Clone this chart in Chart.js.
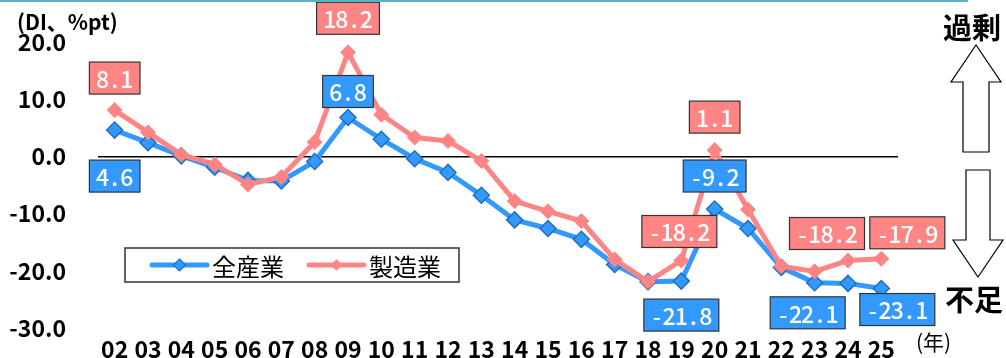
<!DOCTYPE html>
<html>
<head>
<meta charset="utf-8">
<script src="https://cdn.jsdelivr.net/npm/chart.js@4"></script>
<style>
body{margin:0;background:#fff;}
#wrap{width:1006px;height:358px;position:relative;}
</style>
</head>
<body>
<div id="wrap"><canvas id="myChart" width="1006" height="358"></canvas></div>
<script>
// 雇用人員判断DI（全産業・製造業）
var years = ['02','03','04','05','06','07','08','09','10','11','12','13','14','15','16','17','18','19','20','21','22','23','24','25'];
var allInd = [4.6, 2.4, 0.1, -1.9, -4.2, -4.3, -0.9, 6.8, 3.0, -0.4, -2.8, -6.8, -11.1, -12.6, -14.5, -18.9, -21.9, -21.8, -9.2, -12.6, -19.4, -22.1, -22.2, -23.1];
var mfg = [8.1, 4.2, 0.3, -1.4, -4.9, -3.6, 2.5, 18.2, 7.3, 3.3, 2.7, -0.8, -7.8, -9.6, -11.3, -18.0, -21.9, -18.2, 1.1, -9.3, -19.2, -20.1, -18.2, -17.9];
var seriesNames = ['全産業', '製造業'];
var allIndLabeled = [0, 7, 17, 18, 21, 23];
var mfgLabeled = [0, 7, 17, 18, 22, 23];

var BLUE = '#3399ff';
var PINK = '#ff8585';
var JP = '"Noto Sans CJK JP", "Noto Sans", sans-serif';

// box offsets from the point (px), keyed by index
var boxPos = {
  0: {0: [0, 46], 7: [0, -26], 17: [0, 34], 18: [0, -33], 21: [-7, 30], 23: [16, 21]},
  1: {0: [0, -32], 7: [0, -34], 17: [-2, -29], 18: [0, -33], 22: [-21, -27], 23: [26, -26]}
};

function monoText(ctx, str, cx, cy, cell) {
  var x0 = cx - str.length * cell / 2;
  for (var i = 0; i < str.length; i++) {
    ctx.fillText(str[i], x0 + cell * (i + 0.5), cy);
  }
}

var valueBoxes = {
  id: 'valueBoxes',
  afterDatasetsDraw: function(chart) {
    var ctx = chart.ctx;
    var sets = [[0, allIndLabeled, BLUE], [1, mfgLabeled, PINK]];
    ctx.save();
    sets.forEach(function(s) {
      var meta = chart.getDatasetMeta(s[0]);
      var data = chart.data.datasets[s[0]].data;
      s[1].forEach(function(i) {
        var pt = meta.data[i];
        var off = boxPos[s[0]][i];
        var txt = data[i].toFixed(1);
        var cx = pt.x + off[0], cy = pt.y + off[1];
        var w = txt.length * 12.2 + 14, h = 32;
        ctx.fillStyle = s[2];
        ctx.fillRect(cx - w / 2, cy - h / 2, w, h);
        ctx.strokeStyle = '#333';
        ctx.lineWidth = 1.2;
        ctx.strokeRect(cx - w / 2, cy - h / 2, w, h);
        ctx.fillStyle = '#fff';
        ctx.font = '500 23px ' + JP;
        ctx.textAlign = 'center';
        ctx.textBaseline = 'middle';
        monoText(ctx, txt, cx, cy + 1, 12.2);
      });
    });
    ctx.restore();
  }
};

function arrow(ctx, pts) {
  ctx.beginPath();
  ctx.moveTo(pts[0][0], pts[0][1]);
  for (var i = 1; i < pts.length; i++) ctx.lineTo(pts[i][0], pts[i][1]);
  ctx.closePath();
  ctx.fillStyle = '#fff';
  ctx.fill();
  ctx.strokeStyle = '#000';
  ctx.lineWidth = 1.2;
  ctx.stroke();
}

var extras = {
  id: 'extras',
  afterDraw: function(chart) {
    var ctx = chart.ctx;
    ctx.save();
    // thin rule along the top edge
    ctx.fillStyle = '#5ab4c8';
    ctx.fillRect(0, 0, 968, 2);

    ctx.fillStyle = '#000';
    ctx.textBaseline = 'middle';
    ctx.textAlign = 'left';
    ctx.font = 'bold 21px ' + JP;
    ctx.fillText('(DI、%pt)', 17, 22);

    ctx.font = 'bold 29px ' + JP;
    ctx.fillText('過剰', 943, 28);
    ctx.fillText('不足', 945, 300);

    ctx.font = '21px ' + JP;
    ctx.fillText('(年)', 916, 342);

    arrow(ctx, [[976, 45], [1001, 82], [989, 82], [989, 152], [963, 152], [963, 82], [951, 82]]);
    arrow(ctx, [[978, 277], [1003, 240], [990, 240], [990, 170], [966, 170], [966, 240], [953, 240]]);

    // legend
    ctx.fillStyle = '#fff';
    ctx.fillRect(125, 248, 334, 34);
    ctx.strokeStyle = '#333';
    ctx.lineWidth = 1.5;
    ctx.strokeRect(125, 248, 334, 34);
    var items = [[152, BLUE, '#1f6fc0', 6], [309, PINK, PINK, 5]];
    items.forEach(function(it, k) {
      var x = it[0], y = 265;
      ctx.strokeStyle = it[1];
      ctx.lineWidth = 5;
      ctx.lineCap = 'round';
      ctx.beginPath();
      ctx.moveTo(x, y);
      ctx.lineTo(x + 55, y);
      ctx.stroke();
      var r = it[3];
      ctx.beginPath();
      ctx.moveTo(x + 27.5, y - r);
      ctx.lineTo(x + 27.5 + r, y);
      ctx.lineTo(x + 27.5, y + r);
      ctx.lineTo(x + 27.5 - r, y);
      ctx.closePath();
      ctx.fillStyle = it[1];
      ctx.fill();
      ctx.strokeStyle = it[2];
      ctx.lineWidth = 1.2;
      ctx.stroke();
      ctx.fillStyle = '#000';
      ctx.font = '24px ' + JP;
      ctx.textAlign = 'left';
      ctx.fillText(seriesNames[k], x + 60, y + 2);
    });
    ctx.restore();
  }
};

var ctx = document.getElementById('myChart').getContext('2d');
var myChart = new Chart(ctx, {
  type: 'line',
  data: {
    labels: years,
    datasets: [{
      label: seriesNames[0],
      data: allInd,
      borderColor: BLUE,
      backgroundColor: BLUE,
      borderWidth: 5,
      pointStyle: 'rectRot',
      pointRadius: 8,
      pointBackgroundColor: BLUE,
      pointBorderColor: '#1f6fc0',
      pointBorderWidth: 1.5,
      order: 1
    }, {
      label: seriesNames[1],
      data: mfg,
      borderColor: PINK,
      backgroundColor: PINK,
      borderWidth: 5,
      pointStyle: 'rectRot',
      pointRadius: 7.5,
      pointBackgroundColor: PINK,
      pointBorderColor: PINK,
      pointBorderWidth: 1,
      order: 0
    }]
  },
  options: {
    responsive: false,
    animation: false,
    layout: { padding: { top: 42, right: 108, left: 0, bottom: 0 } },
    plugins: {
      legend: { display: false },
      tooltip: { enabled: false }
    },
    scales: {
      x: {
        offset: true,
        grid: { display: false, drawTicks: false },
        border: { display: false },
        ticks: {
          color: '#000',
          padding: 7,
          maxRotation: 0,
          autoSkip: false,
          font: { family: JP, size: 23, weight: 'bold' }
        },
        afterFit: function(scale) {
          scale.height = 30;
          scale.paddingLeft = 0;
          scale.paddingRight = 0;
        }
      },
      y: {
        min: -30,
        max: 20,
        border: { display: false },
        grid: {
          drawTicks: false,
          lineWidth: 1.5,
          color: function(c) { return c.tick && c.tick.value === 0 ? '#000' : 'rgba(0,0,0,0)'; }
        },
        ticks: {
          stepSize: 10,
          color: '#000',
          padding: 32,
          font: { family: JP, size: 23, weight: 'bold' },
          callback: function(v) { return v.toFixed(1); }
        },
        afterFit: function(scale) {
          scale.width = 98;
          scale.paddingTop = 0;
          scale.paddingBottom = 0;
        }
      }
    }
  },
  plugins: [valueBoxes, extras]
});
</script>
</body>
</html>
